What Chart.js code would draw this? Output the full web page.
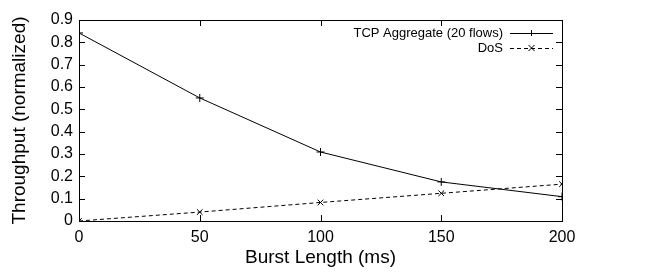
<!DOCTYPE html>
<html>
<head>
<meta charset="utf-8">
<script src="https://cdn.jsdelivr.net/npm/chart.js@4/dist/chart.umd.min.js"></script>
<style>
  html, body { margin: 0; padding: 0; background: #fff; }
  #wrap { width: 645px; height: 274px; }
</style>
</head>
<body>
<div id="wrap"><canvas id="chart" width="645" height="274"></canvas></div>
<script>
// values
const burstLengths = [0, 50, 100, 150, 200];
const tcpAggregate = [0.842, 0.551, 0.309, 0.175, 0.109];
const dosThroughput = [0.0, 0.040, 0.083, 0.124, 0.165];
const xTicks = [0, 50, 100, 150, 200];
const yTicks = [0, 0.1, 0.2, 0.3, 0.4, 0.5, 0.6, 0.7, 0.8, 0.9];

const seriesNames = ['TCP Aggregate (20 flows)', 'DoS'];
const fontFamily = '"Liberation Sans", Arial, Helvetica, sans-serif';

// gnuplot style inward ticks on all four sides
const innerTicks = {
    id: 'innerTicks',
    afterDraw(chart) {
        const ctx = chart.ctx;
        const area = chart.chartArea;
        const x = chart.scales.x;
        const y = chart.scales.y;
        const len = 6;
        ctx.save();
        ctx.strokeStyle = '#000';
        ctx.lineWidth = 1;
        ctx.beginPath();
        xTicks.forEach(v => {
            const px = Math.round(x.getPixelForValue(v)) + 0.5;
            ctx.moveTo(px, area.bottom);
            ctx.lineTo(px, area.bottom - len);
            ctx.moveTo(px, area.top);
            ctx.lineTo(px, area.top + len);
        });
        yTicks.forEach(v => {
            const py = Math.round(y.getPixelForValue(v)) + 0.5;
            ctx.moveTo(area.left, py);
            ctx.lineTo(area.left + len, py);
            ctx.moveTo(area.right, py);
            ctx.lineTo(area.right - len, py);
        });
        ctx.stroke();
        ctx.strokeRect(Math.round(area.left) + 0.5, Math.round(area.top) + 0.5,
            Math.round(area.right - area.left), Math.round(area.bottom - area.top));
        ctx.restore();
    }
};

// key in the top right corner, text right-aligned, sample line after it
const insideKey = {
    id: 'insideKey',
    afterDraw(chart) {
        const ctx = chart.ctx;
        const area = chart.chartArea;
        ctx.save();
        ctx.font = '13px ' + fontFamily;
        ctx.textAlign = 'right';
        ctx.textBaseline = 'middle';
        ctx.fillStyle = '#000';
        chart.data.datasets.forEach((ds, i) => {
            const yy = area.top + 13 + i * 15;
            const textRight = area.right - 59;
            ctx.fillText(ds.label, textRight, yy);
            const x0 = textRight + 7;
            const x1 = area.right - 9;
            ctx.strokeStyle = '#000';
            ctx.lineWidth = 1;
            ctx.setLineDash(ds.borderDash || []);
            ctx.beginPath();
            ctx.moveTo(x0, yy + 0.5);
            ctx.lineTo(x1, yy + 0.5);
            ctx.stroke();
            ctx.setLineDash([]);
            const cx = (x0 + x1) / 2;
            const r = 3;
            ctx.beginPath();
            if (ds.pointStyle === 'cross') {
                ctx.moveTo(cx, yy - r);
                ctx.lineTo(cx, yy + r);
            } else {
                ctx.moveTo(cx - r, yy - r);
                ctx.lineTo(cx + r, yy + r);
                ctx.moveTo(cx + r, yy - r);
                ctx.lineTo(cx - r, yy + r);
            }
            ctx.stroke();
        });
        ctx.restore();
    }
};

new Chart(document.getElementById('chart'), {
    type: 'line',
    data: {
        datasets: [
            {
                label: seriesNames[0],
                data: burstLengths.map((b, i) => ({ x: b, y: tcpAggregate[i] })),
                borderColor: '#000',
                borderWidth: 1,
                pointStyle: 'cross',
                pointRadius: 4,
                pointBorderColor: '#000',
                pointBorderWidth: 1,
                tension: 0,
                fill: false
            },
            {
                label: seriesNames[1],
                data: burstLengths.map((b, i) => ({ x: b, y: dosThroughput[i] })),
                borderColor: '#000',
                borderWidth: 1,
                borderDash: [4, 3],
                pointStyle: 'crossRot',
                pointRadius: 4,
                pointBorderColor: '#000',
                pointBorderWidth: 1,
                tension: 0,
                fill: false
            }
        ]
    },
    options: {
        responsive: false,
        animation: false,
        layout: { padding: { top: 20, right: 83, bottom: 0, left: 8 } },
        plugins: {
            legend: { display: false },
            tooltip: { enabled: false }
        },
        scales: {
            x: {
                type: 'linear',
                min: 0,
                max: 200,
                afterBuildTicks: scale => { scale.ticks = xTicks.map(v => ({ value: v })); },
                afterFit: scale => { scale.height = 53; },
                grid: { display: false, drawTicks: false },
                border: { display: false },
                ticks: {
                    color: '#000',
                    padding: 7,
                    font: { family: fontFamily, size: 16 }
                },
                title: {
                    display: true,
                    text: 'Burst Length (ms)',
                    color: '#000',
                    padding: { top: 0, bottom: 5 },
                    font: { family: fontFamily, size: 19 }
                }
            },
            y: {
                type: 'linear',
                min: 0,
                max: 0.9,
                afterBuildTicks: scale => { scale.ticks = yTicks.map(v => ({ value: v })); },
                afterFit: scale => { scale.width = 71; },
                grid: { display: false, drawTicks: false },
                border: { display: false },
                ticks: {
                    color: '#000',
                    padding: 6,
                    font: { family: fontFamily, size: 16 },
                    callback: v => (v === 0 ? '0' : v.toFixed(1))
                },
                title: {
                    display: true,
                    text: 'Throughput (normalized)',
                    color: '#000',
                    padding: { top: 0, bottom: 2 },
                    font: { family: fontFamily, size: 19 }
                }
            }
        }
    },
    plugins: [innerTicks, insideKey]
});
</script>
</body>
</html>
